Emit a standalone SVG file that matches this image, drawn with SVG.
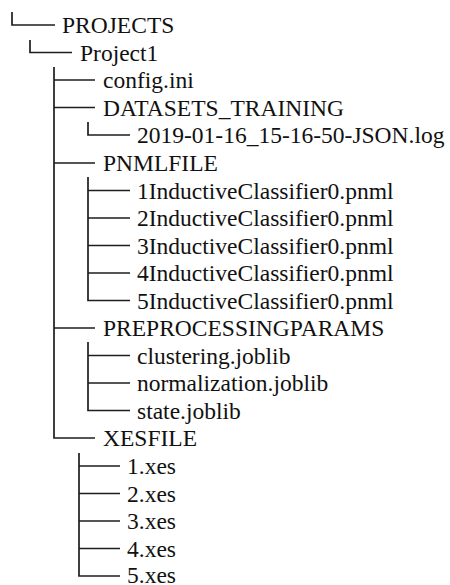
<svg xmlns="http://www.w3.org/2000/svg" width="450" height="585" viewBox="0 0 450 585">
<style>
.c{fill:none;stroke:#1e1e1e;stroke-width:1.7}
.t{font-family:"Liberation Serif","Times New Roman",serif;font-size:23.5px;fill:#111}
</style>
<rect width="450" height="585" fill="#fff"/>
<g id="connectors" class="c">
<path d="M12 12V25H55"/>
<path d="M30 40V52.5H72"/>
<path d="M54 67V438H95M54 80H95M54 107.5H95M54 163H95M54 328H95"/>
<path d="M88 122V135H130"/>
<path d="M88 177V300.5H130M88 190.5H130M88 218H130M88 245.5H130M88 273H130"/>
<path d="M88 342V410.5H130M88 355.5H130M88 383H130"/>
<path d="M79 453V576H120M79 466H120M79 493.5H120M79 521H120M79 548.5H120"/>
</g>
<g id="n-projects"><text class="t" x="62" y="33">PROJECTS</text></g>
<g id="n-project1"><text class="t" x="80" y="60.5">Project1</text></g>
<g id="n-config"><text class="t" x="103" y="88">config.ini</text></g>
<g id="n-datasets"><text class="t" x="103" y="115.5">DATASETS_TRAINING</text></g>
<g id="n-log"><text class="t" x="137" y="143">2019-01-16_15-16-50-JSON.log</text></g>
<g id="n-pnmlfile"><text class="t" x="103" y="171">PNMLFILE</text></g>
<g id="n-pnml1"><text class="t" x="137" y="198.5">1InductiveClassifier0.pnml</text></g>
<g id="n-pnml2"><text class="t" x="137" y="226">2InductiveClassifier0.pnml</text></g>
<g id="n-pnml3"><text class="t" x="137" y="253.5">3InductiveClassifier0.pnml</text></g>
<g id="n-pnml4"><text class="t" x="137" y="281">4InductiveClassifier0.pnml</text></g>
<g id="n-pnml5"><text class="t" x="137" y="308.5">5InductiveClassifier0.pnml</text></g>
<g id="n-preproc"><text class="t" x="103" y="336">PREPROCESSINGPARAMS</text></g>
<g id="n-clustering"><text class="t" x="137" y="363.5">clustering.joblib</text></g>
<g id="n-normalization"><text class="t" x="137" y="391">normalization.joblib</text></g>
<g id="n-state"><text class="t" x="137" y="418.5">state.joblib</text></g>
<g id="n-xesfile"><text class="t" x="103" y="446">XESFILE</text></g>
<g id="n-xes1"><text class="t" x="127" y="474">1.xes</text></g>
<g id="n-xes2"><text class="t" x="127" y="501.5">2.xes</text></g>
<g id="n-xes3"><text class="t" x="127" y="529">3.xes</text></g>
<g id="n-xes4"><text class="t" x="127" y="556.5">4.xes</text></g>
<g id="n-xes5"><text class="t" x="127" y="583">5.xes</text></g>
</svg>
